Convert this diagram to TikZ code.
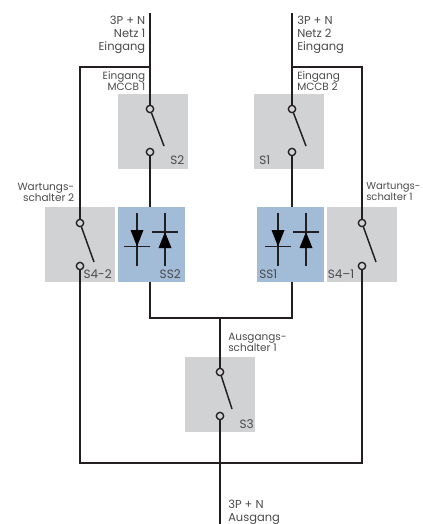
\documentclass[tikz,border=0pt]{standalone}
\usepackage{fontspec}
\setmainfont{Poppins}
\usepackage{xcolor}
\usetikzlibrary{calc}
\definecolor{wirecol}{HTML}{231F20}
\definecolor{boxgray}{HTML}{D1D2D4}
\definecolor{boxblue}{HTML}{A2BCD8}
\definecolor{labelcol}{HTML}{4A4A4C}
\tikzset{
	wire/.style={draw=wirecol,line width=1.1pt},
	frame/.style={draw=wirecol,line width=1.5pt},
	diode/.style={draw=wirecol,line width=0.9pt},
	graybox/.style={fill=boxgray,minimum width=52.5pt,minimum height=56.25pt,inner sep=0pt},
	bluebox/.style={fill=boxblue,minimum width=50pt,minimum height=56.25pt,inner sep=0pt},
	contact/.style={circle,draw=wirecol,line width=1pt,minimum size=5.5pt,inner sep=0pt},
	biglabel/.style={text=labelcol,font=\fontsize{8.6}{9.8}\selectfont,inner sep=0pt},
	smalllabel/.style={text=labelcol,font=\fontsize{7.85}{8.3}\selectfont,inner sep=0pt},
	boxlabel/.style={text=labelcol,font=\fontsize{9}{10}\selectfont,inner sep=0pt}
}
\begin{document}
\begin{tikzpicture}[x=0.75pt,y=-0.75pt]
	\useasboundingbox (0,0) rectangle (422,524);
	% boxes
	\node[graybox] (s2) at (153,131.5) {};
	\node[graybox] (s1) at (289,131.5) {};
	\node[graybox] (s42) at (80,244.5) {};
	\node[graybox] (s41) at (362,244.5) {};
	\node[graybox] (s3) at (220,394.5) {};
	\node[bluebox] (ss2) at (151.5,244.5) {};
	\node[bluebox] (ss1) at (290.5,244.5) {};
	% contacts
	\node[contact] (s2a) at (150,109) {};
	\node[contact] (s2b) at (150,152) {};
	\node[contact] (s1a) at (292,109) {};
	\node[contact] (s1b) at (292,152) {};
	\node[contact] (s42a) at (80,223) {};
	\node[contact] (s42b) at (80,266) {};
	\node[contact] (s41a) at (362,223) {};
	\node[contact] (s41b) at (362,266) {};
	\node[contact] (s3a) at (220,372) {};
	\node[contact] (s3b) at (220,416) {};
	% free ends and junctions
	\coordinate (in1) at (150,13);
	\coordinate (in2) at (292,13);
	\coordinate (out) at (220,524);
	\coordinate (j1) at (150,67.5);
	\coordinate (j2) at (292,67.5);
	\coordinate (j3) at (220,462.5);
	\coordinate (j4) at (220,318);
	% wires
	\draw[wire] (in1) -- (s2a);
	\draw[wire] (in2) -- (s1a);
	\draw[wire] (s2b) -- (s2b |- ss2.north);
	\draw[wire] (s1b) -- (s1b |- ss1.north);
	\draw[wire] (s2b |- ss2.south) |- (j4);
	\draw[wire] (s1b |- ss1.south) |- (j4);
	\draw[wire] (j4) -- (s3a);
	\draw[wire] (s3b) -- (out);
	% bypass frame
	\draw[frame] (j1) -| (s42a);
	\draw[frame] (j2) -| (s41a);
	\draw[frame] (s42b) |- (j3);
	\draw[frame] (s41b) |- (j3);
	% blades
	\draw[wire] (s2a) -- ($(s2a)+(14,37)$);
	\draw[wire] (s1a) -- ($(s1a)+(14,37)$);
	\draw[wire] (s42a) -- ($(s42a)+(14,39)$);
	\draw[wire] (s41a) -- ($(s41a)+(14,39)$);
	\draw[wire] (s3a) -- ($(s3a)+(12,37)$);
	% diodes
	\foreach \x in {137,278} {
		\draw[diode] (\x,213) -- (\x,266);
		\draw[diode] (\x-13,246.5) -- (\x+13,246.5);
		\fill[black] (\x-6.5,230) -- (\x+6.5,230) -- (\x,246.5) -- cycle;
	}
	\foreach \x in {165,306} {
		\draw[diode] (\x,213) -- (\x,266);
		\draw[diode] (\x-13,232) -- (\x+13,232);
		\fill[black] (\x-6.5,248) -- (\x+6.5,248) -- (\x,232) -- cycle;
	}
	% labels
	\node[biglabel,anchor=north east,align=right] (lin1) at (145.5,15.5) {3P + N\\Netz 1\\Eingang};
	\node[biglabel,anchor=north west,align=left] (lin2) at (297,15.5) {3P + N\\Netz 2\\Eingang};
	\node[smalllabel,anchor=north east,align=right] (lm1) at (145.5,71.5) {Eingang\\MCCB 1};
	\node[smalllabel,anchor=north west,align=left] (lm2) at (297,71.5) {Eingang\\MCCB 2};
	\node[smalllabel,anchor=north east,align=right] (lw2) at (74.5,182.5) {Wartungs-\\schalter 2};
	\node[smalllabel,anchor=north west,align=left,font=\fontsize{7.5}{8.3}\selectfont] (lw1) at (366,182.5) {Wartungs-\\schalter 1};
	\node[smalllabel,anchor=north west,align=left] (la1) at (228,333) {Ausgangs-\\schalter 1};
	\node[biglabel,anchor=north west,align=left] (lout) at (228,499.5) {3P + N\\Ausgang};
	\node[boxlabel,anchor=base east] (ls2) at (184.5,165) {S2};
	\node[boxlabel,anchor=base west] (ls1) at (259,165) {S1};
	\node[boxlabel,anchor=base east] (ls42) at (112,278) {S4-2};
	\node[boxlabel,anchor=base west] (ls41) at (327.5,278) {S4–1};
	\node[boxlabel,anchor=base east] (lss2) at (181,278) {SS2};
	\node[boxlabel,anchor=base west] (lss1) at (259,278) {SS1};
	\node[boxlabel,anchor=base east] (ls3) at (254,428) {S3};
\end{tikzpicture}
\end{document}
